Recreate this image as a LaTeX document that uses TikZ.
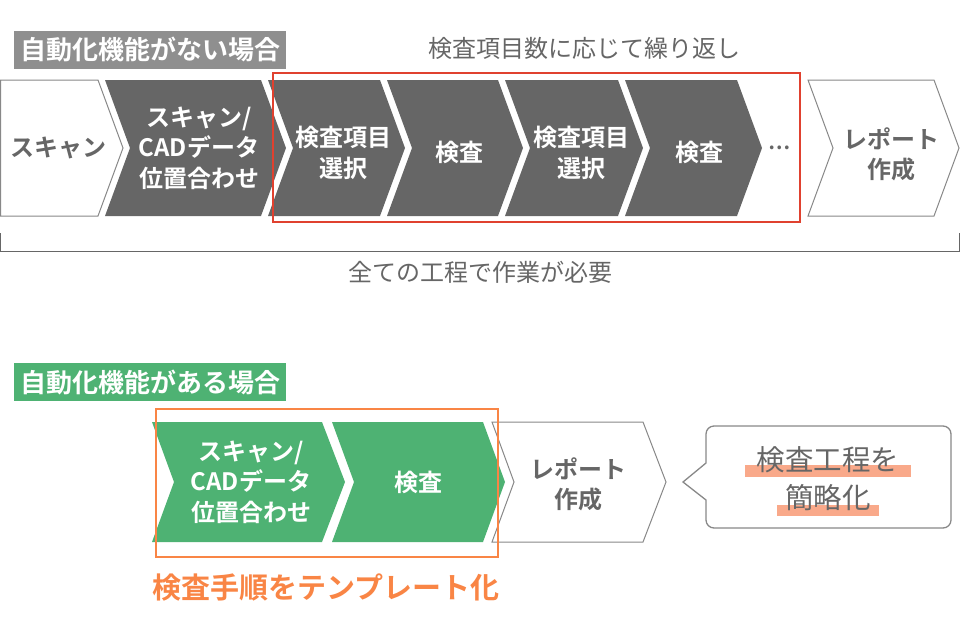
\documentclass[tikz,border=0pt]{standalone}
\usepackage{fontspec}
\usepackage{xcolor}
\usepackage{tikz}
\setmainfont{Noto Sans CJK JP}[BoldFont={Noto Sans CJK JP Bold}]

\definecolor{darkstep}{HTML}{666666}
\definecolor{labelgray}{HTML}{8F8F8F}
\definecolor{okgreen}{HTML}{4EB273}
\definecolor{loopred}{HTML}{E0412F}
\definecolor{tplorange}{HTML}{F98545}
\definecolor{marksalmon}{HTML}{F9A98A}
\definecolor{outlinegray}{HTML}{888888}

% chevron: style, left x, right x, top y, bottom y, notch depth, tip depth
\newcommand{\chev}[7]{%
  \path[#1] (#2,#4) -- (#3,#4) -- ({#3+#7},{(#4+#5)/2}) -- (#3,#5) -- (#2,#5)
    -- ({#2+#6},{(#4+#5)/2}) -- cycle;}

\tikzset{
  darkchev/.style={fill=darkstep},
  greenchev/.style={fill=okgreen},
  whitechev/.style={draw=outlinegray, line width=1pt, fill=white},
  steptext/.style={align=center, text=white, font=\bfseries\fontsize{24}{30.5}\selectfont},
  greytext/.style={align=center, text=darkstep, font=\bfseries\fontsize{24}{30}\selectfont},
  casetag/.style={text=white, font=\bfseries\fontsize{26}{28}\selectfont, inner sep=0pt},
  note/.style={text=darkstep, font=\fontsize{24}{26}\selectfont}
}

\begin{document}
\begin{tikzpicture}[x=1pt, y=-1pt]
    \useasboundingbox (0,0) rectangle (960,640);

    % without automation
    \fill[labelgray] (14,31) rectangle (286,69);
    \node[casetag] (tagno) at (150,50) {自動化機能がない場合};

    \chev{whitechev}{0.5}{98}{80}{216}{0}{25}
    \chev{darkchev}{105}{261}{80}{216}{25}{25}
    \chev{darkchev}{268}{380}{80}{216}{25}{25}
    \chev{darkchev}{387}{498}{80}{216}{25}{25}
    \chev{darkchev}{505}{618}{80}{216}{25}{25}
    \chev{darkchev}{625}{737}{80}{216}{25}{25}
    \chev{whitechev}{808}{934}{80}{216}{25}{25}

    \node[greytext] (scan) at (58,148) {スキャン};
    \node[steptext] (align) at (199,148) {スキャン/\\CADデータ\\位置合わせ};
    \node[steptext] (pickA) at (343,153) {検査項目\\選択};
    \node[steptext] (checkA) at (459,152) {検査};
    \node[steptext] (pickB) at (581,153) {検査項目\\選択};
    \node[steptext] (checkB) at (699,152) {検査};
    \node[text=darkstep, font=\bfseries\fontsize{20}{20}\selectfont] (more) at (779,148) {…};
    \node[greytext] (report) at (891,154) {レポート\\作成};

    \draw[loopred, line width=1.5pt] (273,73) rectangle (800,222);
    \node[note] (repeat) at (584,48) {検査項目数に応じて繰り返し};

    \draw[darkstep, line width=1pt] (0.5,233) -- (0.5,251) -- (959.5,251) -- (959.5,233);
    \node[note] (allwork) at (480,272) {全ての工程で作業が必要};

    % with automation
    \fill[okgreen] (14,363) rectangle (286,401);
    \node[casetag] (tagyes) at (150,382) {自動化機能がある場合};

    \chev{greenchev}{152}{322}{422}{542}{22}{23}
    \chev{greenchev}{332}{483}{422}{542}{22}{22}
    \chev{whitechev}{492}{643}{422}{542}{22}{23}

    \node[steptext] (alignG) at (251,482) {スキャン/\\CADデータ\\位置合わせ};
    \node[steptext] (checkG) at (418,482) {検査};
    \node[greytext] (reportG) at (578,484) {レポート\\作成};

    \draw[tplorange, line width=1.5pt] (156,409) rectangle (498,557);
    \node[text=tplorange, font=\bfseries\fontsize{29}{30}\selectfont] (template) at (326,587) {検査手順をテンプレート化};

    \draw[outlinegray, line width=1.3pt, fill=white] (683,482) -- (706,463)
        [rounded corners=8] -- (706,426) -- (951,426) -- (951,528) -- (706,528)
        [sharp corners] -- (706,500) -- cycle;
    \fill[marksalmon] (745,465) rectangle (911,477);
    \fill[marksalmon] (777,505) rectangle (879,516);
    \node[align=center, text=darkstep, font=\fontsize{28.5}{38}\selectfont] (shorter) at (828,479) {検査工程を\\簡略化};
\end{tikzpicture}
\end{document}
